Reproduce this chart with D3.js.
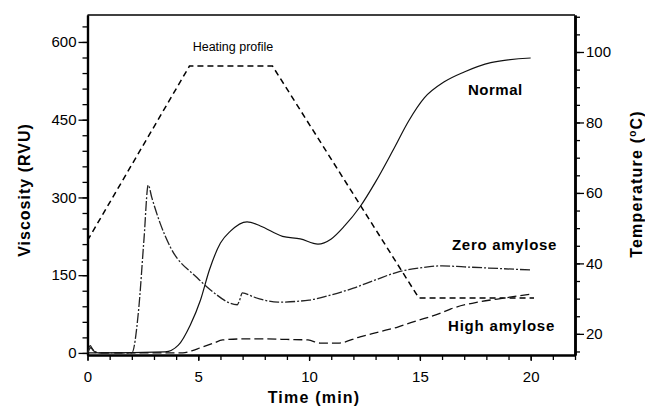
<!DOCTYPE html>
<html><head><meta charset="utf-8">
<script src="https://cdn.jsdelivr.net/npm/d3@7"></script>
<style>
body{margin:0;background:#fff;}
svg{display:block;font-family:Arial,"Liberation Sans",sans-serif;}
</style></head>
<body><svg id="c" width="645" height="407"></svg>
<script>
// ---- data ----
const normalTime = [0,0.12,0.22,0.35,0.6,3.5,4.1,4.64,5.1,5.5,6.0,6.45,7.2,7.8,8.8,9.6,10.4,11.0,11.6,12.3,13.0,13.8,14.5,15.2,16.1,17.0,18.2,20.0];
const normalVisc = [0,14,8,1,0,2,15,54,102,160,212,235,253,245,225,220,210,220,245,282,330,392,448,492,523,542,560,569];

const zeroTime = [0,0.15,0.3,0.6,2.0,2.3,2.55,2.74,2.9,3.28,3.73,4.95,5.54,6.76,6.85,6.99,7.5,8.6,10.0,11.0,12.0,13.0,14.0,15.0,16.0,17.0,18.0,20.0];
const zeroVisc = [0,10,3,0,0,80,220,324,300,250,205,145,122,93,100,116,108,98,102,112,125,141,156,164,168,166,164,160];

const highTime = [0,3.5,4.3,4.7,5.1,5.7,6.1,7.0,8.0,9.0,9.95,10.5,11.3,12.3,13.2,14.0,14.7,15.95,16.4,17.6,18.5,20.1];
const highVisc = [0,0,0,4,10,19,25,27,27,26,25,19,19,31,41,50,60,77,85,98,104,114];

const heatTime = [0,4.6,8.35,14.95,20.15];
const heatTemp = [46.5,96,96,30.2,30.2];

const xMajor = [0,5,10,15,20];
const vMajor = [0,150,300,450,600];
const tMajor = [20,40,60,80,100];

// ---- scales ----
const svg = d3.select("#c");
const x = d3.scaleLinear().domain([0,22]).range([87.5,575]);
const yV = d3.scaleLinear().domain([-4,652]).range([355,15]);
const yT = d3.scaleLinear().domain([14,110.5]).range([355,15]);

const line = (xs, ys, ysc) => d3.line().x((d,i)=>x(xs[i])).y((d,i)=>ysc(ys[i])).curve(d3.curveMonotoneX)(xs);
const lineLin = (xs, ys, ysc) => d3.line().x((d,i)=>x(xs[i])).y((d,i)=>ysc(ys[i]))(xs);

// top border
svg.append("line").attr("x1",x(0)).attr("x2",x(22)).attr("y1",15).attr("y2",15).attr("stroke","#000").attr("stroke-width",1.5);

// axes
function styleAxis(g, sw){
  g.select(".domain").attr("stroke","#000").attr("stroke-width",sw);
  g.selectAll(".tick line").attr("stroke","#000").attr("stroke-width",1.3);
  g.selectAll("text").attr("font-size","15px").attr("fill","#000").attr("font-family","Arial, 'Liberation Sans', sans-serif");
}
// bottom
const gxm = svg.append("g").attr("transform","translate(0,355)")
  .call(d3.axisBottom(x).tickValues(d3.range(0,23,1)).tickFormat("").tickSize(5).tickSizeOuter(0));
styleAxis(gxm,2);
const gx = svg.append("g").attr("transform","translate(0,355)")
  .call(d3.axisBottom(x).tickValues(xMajor).tickFormat(d3.format("d")).tickSize(6).tickPadding(10).tickSizeOuter(0));
styleAxis(gx,2);
// left
const gym = svg.append("g").attr("transform","translate(87.5,0)")
  .call(d3.axisLeft(yV).tickValues(d3.range(0,631,30)).tickFormat("").tickSize(5).tickSizeOuter(0));
styleAxis(gym,2.2);
const gy = svg.append("g").attr("transform","translate(87.5,0)")
  .call(d3.axisLeft(yV).tickValues(vMajor).tickFormat(d3.format("d")).tickSize(9).tickPadding(2).tickSizeOuter(0));
styleAxis(gy,2.2);
// right
const gtm = svg.append("g").attr("transform","translate(575,0)")
  .call(d3.axisRight(yT).tickValues(d3.range(15,111,5)).tickFormat("").tickSize(5).tickSizeOuter(0));
styleAxis(gtm,2.5);
const gt = svg.append("g").attr("transform","translate(575,0)")
  .call(d3.axisRight(yT).tickValues(tMajor).tickFormat(d3.format("d")).tickSize(9).tickPadding(2).tickSizeOuter(0));
styleAxis(gt,2.5);

// lines
svg.append("path").attr("d",lineLin(heatTime,heatTemp,yT)).attr("fill","none").attr("stroke","#000").attr("stroke-width",1.5).attr("stroke-dasharray","6,4");
svg.append("path").attr("d",line(normalTime,normalVisc,yV)).attr("fill","none").attr("stroke","#111").attr("stroke-width",1.2);
svg.append("path").attr("d",line(zeroTime,zeroVisc,yV)).attr("fill","none").attr("stroke","#222").attr("stroke-width",1.3).attr("stroke-dasharray","10,2,2,2");
svg.append("path").attr("d",line(highTime,highVisc,yV)).attr("fill","none").attr("stroke","#111").attr("stroke-width",1.3).attr("stroke-dasharray","9,4");

// labels
svg.append("text").attr("x",233).attr("y",51).attr("text-anchor","middle").attr("font-size","12.5px").text("Heating profile");
svg.append("text").attr("x",468).attr("y",95).attr("font-size","15px").attr("font-weight","bold").attr("letter-spacing","0.5px").text("Normal");
svg.append("text").attr("x",452).attr("y",250).attr("font-size","15px").attr("font-weight","bold").attr("letter-spacing","0.7px").text("Zero amylose");
svg.append("text").attr("x",448).attr("y",331).attr("font-size","15px").attr("font-weight","bold").attr("letter-spacing","0.8px").text("High amylose");

// axis titles
svg.append("text").attr("x",314).attr("y",403).attr("text-anchor","middle").attr("font-size","16px").attr("font-weight","bold").attr("letter-spacing","1.2px").text("Time (min)");
svg.append("text").attr("transform","translate(30,190) rotate(-90)").attr("text-anchor","middle").attr("font-size","16px").attr("font-weight","bold").attr("letter-spacing","1px").text("Viscosity (RVU)");
const tt = svg.append("text").attr("transform","translate(642,184) rotate(-90)").attr("text-anchor","middle").attr("font-size","16px").attr("font-weight","bold").attr("letter-spacing","1.2px");
tt.append("tspan").text("Temperature (");
tt.append("tspan").attr("font-size","10px").attr("dy","-6").text("o");
tt.append("tspan").attr("dy","6").text("C)");
</script></body></html>
